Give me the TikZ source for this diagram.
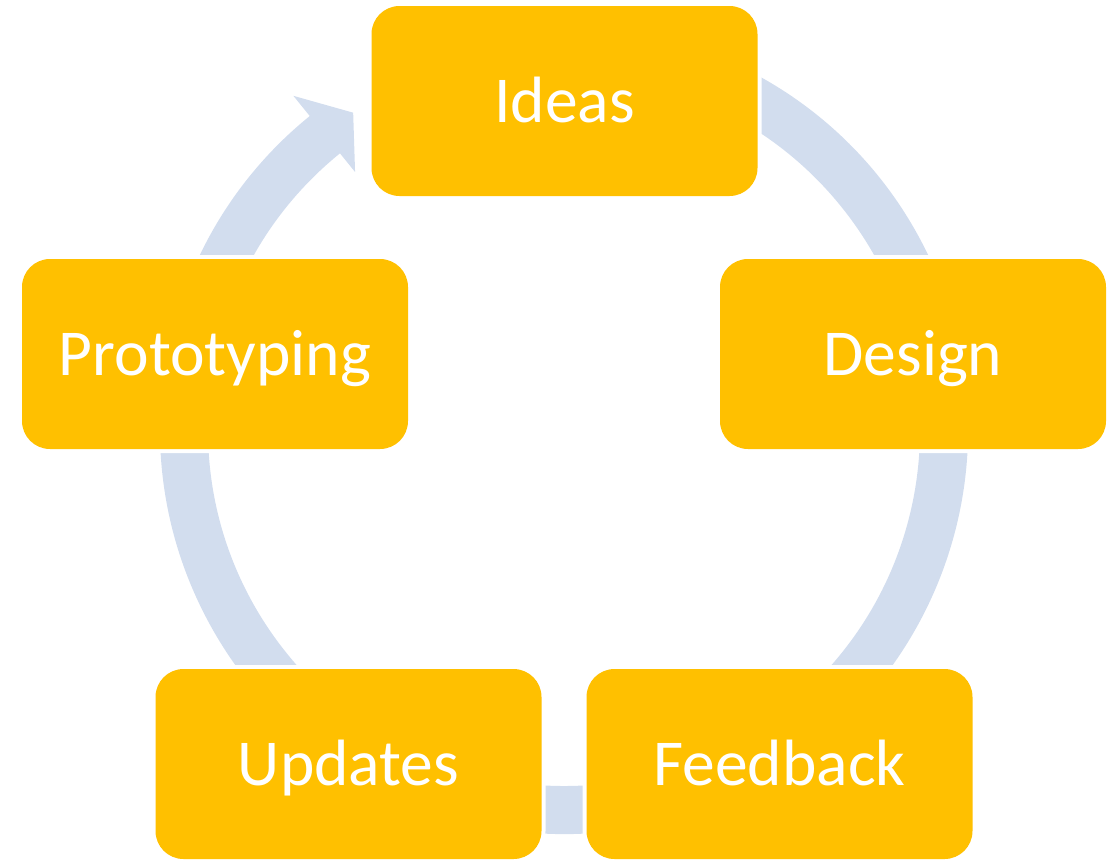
\documentclass[tikz,border=0pt]{standalone}
\usepackage{fontspec}
\setmainfont{Carlito}
\usetikzlibrary{calc}
\definecolor{boxfill}{HTML}{FFC000}
\definecolor{ringfill}{HTML}{D2DDEE}
\begin{document}
\begin{tikzpicture}[x=1pt,y=-1pt,
  stage/.style={rectangle, rounded corners=28pt, fill=boxfill,
    minimum width=386pt, minimum height=190pt, inner sep=0pt,
    preaction={draw=white, line width=8pt}},
  label/.style={anchor=base, text=white, inner sep=0pt,
    font=\fontsize{65.5}{78}\selectfont}]
\useasboundingbox (0,0) rectangle (1114,860);
\coordinate (c) at (564,430);
% cycle ring with its arrow head
\fill[ringfill] ($(c)+(245:404)$) arc[start angle=245, end angle=591, radius=404]
  -- ($(c)+(231:430)$) -- ($(c)+(236.4:381)$) -- ($(c)+(231:332)$)
  -- ($(c)+(231:356)$) arc[start angle=591, end angle=245, radius=356] -- cycle;
% stages
\node[stage] (ideas) at (564.5,101) {};
\node[stage] (design) at (913,354) {};
\node[stage] (feedback) at (779.5,764) {};
\node[stage] (updates) at (348.5,764) {};
\node[stage] (proto) at (215,354) {};
\node[label] (ideasT) at ($(ideas.center)+(0,21)$) {Ideas};
\node[label] (designT) at ($(design.center)+(0,21)$) {Design};
\node[label] (feedbackT) at ($(feedback.center)+(0,21)$) {Feedback};
\node[label] (updatesT) at ($(updates.center)+(0,21)$) {Updates};
\node[label] (protoT) at ($(proto.center)+(0,21)$) {Prototyping};
\end{tikzpicture}
\end{document}
